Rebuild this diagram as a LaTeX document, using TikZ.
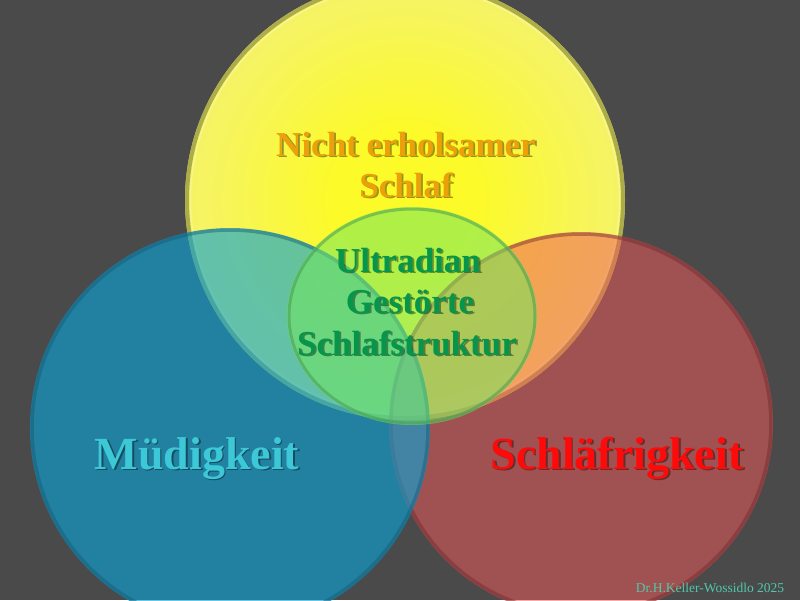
\documentclass[tikz,border=0pt]{standalone}
\usepackage{fontspec}
\setmainfont{Liberation Serif}
\definecolor{bg}{RGB}{74,74,74}
\definecolor{ybright}{RGB}{252,250,40}
\definecolor{ymid}{RGB}{246,244,95}
\definecolor{ylight}{RGB}{241,240,125}
\definecolor{yedge}{RGB}{236,236,135}
\definecolor{yrim}{RGB}{160,160,70}
\definecolor{bluefill}{RGB}{10,163,214}
\definecolor{bluerim}{RGB}{20,90,120}
\definecolor{redfill}{RGB}{240,88,88}
\definecolor{redrim}{RGB}{115,40,45}
\definecolor{greenfill}{RGB}{115,232,96}
\definecolor{greenrim}{RGB}{70,150,80}
\definecolor{orangetext}{RGB}{236,160,10}
\definecolor{greentext}{RGB}{5,150,75}
\definecolor{cyantext}{RGB}{60,200,215}
\definecolor{redtext}{RGB}{255,10,10}
\definecolor{signtext}{RGB}{80,200,170}
\pgfdeclareradialshading{yelshade}{\pgfpoint{0bp}{0bp}}{color(0bp)=(ybright); color(8bp)=(ybright); color(22bp)=(ymid); color(36bp)=(ylight); color(50bp)=(yedge); color(72bp)=(yedge)}
\tikzset{
  bigtxt/.style={font=\bfseries\fontsize{35}{35}\selectfont, anchor=base, inner sep=0pt},
  hugetxt/.style={font=\bfseries\fontsize{46}{46}\selectfont, anchor=base, inner sep=0pt},
  signtxt/.style={font=\fontsize{13.5}{13.5}\selectfont, anchor=base, inner sep=0pt},
  rim/.style={line width=3.5pt, opacity=0.45},
}
\newcommand{\shtext}[5]{%
  \node[#3, text=black, text opacity=0.4, xshift=1.8pt, yshift=-1.8pt] (#1s) at (#2) {#5};
  \node[#3, text=#4] (#1) at (#2) {#5};}
\begin{document}
\begin{tikzpicture}[x=1pt,y=-1pt]
\useasboundingbox (0,0) rectangle (800,600);
\clip (0,0) rectangle (800,600);
\fill[bg] (0,0) rectangle (800,600);
% yellow circle
\shade[shading=yelshade] (405,200) circle[radius=220pt];
\draw[yrim, line width=4pt, opacity=0.85] (405,200) circle[radius=218pt];
\draw[white, opacity=0.25, line width=1.5pt] (405,200) circle[radius=214.5pt];
% red circle
\fill[redfill, fill opacity=0.52] (581,424) circle[radius=192pt];
\draw[redrim, rim] (581,424) circle[radius=190pt];
% blue circle
\fill[bluefill, fill opacity=0.62] (230,428) circle[radius=200pt];
\draw[bluerim, rim] (230,428) circle[radius=198pt];
% green centre
\fill[greenfill, fill opacity=0.55] (412,316) ellipse[x radius=125pt, y radius=109pt];
\draw[greenrim, line width=3pt, opacity=0.5] (412,316) ellipse[x radius=123pt, y radius=107pt];
% texts
\shtext{t1}{406,156}{bigtxt}{orangetext}{Nicht erholsamer}
\shtext{t2}{406,197}{bigtxt}{orangetext}{Schlaf}
\shtext{u1}{408,272}{bigtxt}{greentext}{Ultradian}
\shtext{u2}{410,313}{bigtxt}{greentext}{Gestörte}
\shtext{u3}{407,355}{bigtxt}{greentext}{Schlafstruktur}
\shtext{m}{197,469}{hugetxt}{cyantext}{Müdigkeit}
\shtext{s}{617,469}{hugetxt}{redtext}{Schläfrigkeit}
\node[signtxt, text=signtext] (sig) at (710,592) {Dr.H.Keller-Wossidlo 2025};
\end{tikzpicture}
\end{document}
